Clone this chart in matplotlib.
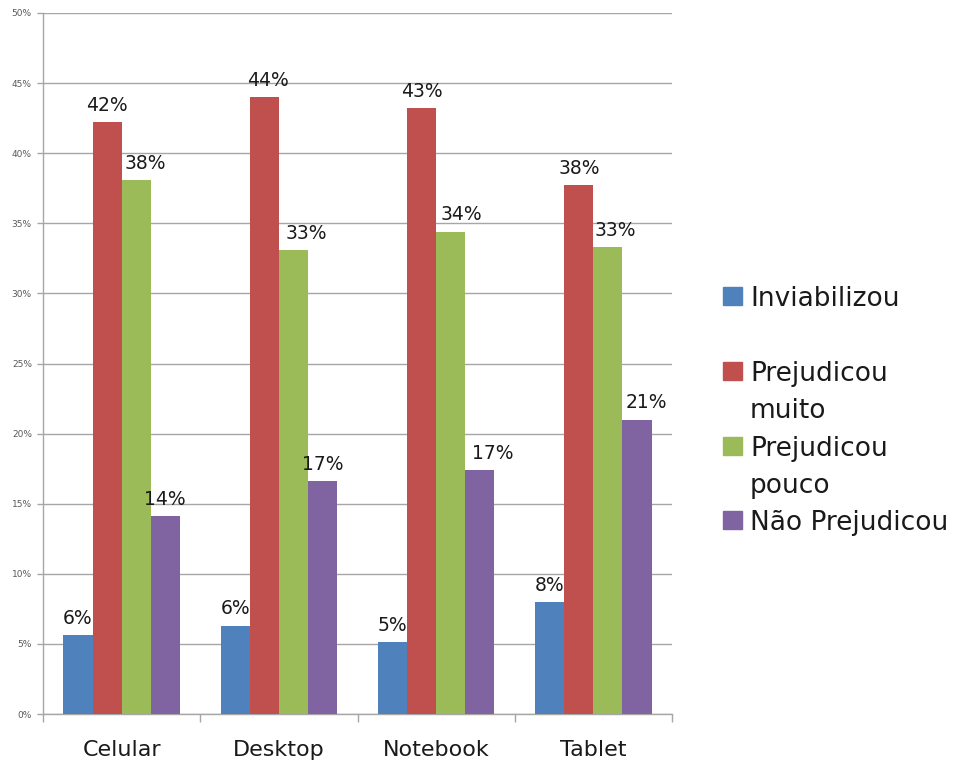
import matplotlib
matplotlib.use("Agg")
import matplotlib.pyplot as plt
from matplotlib.patches import Rectangle
import numpy as np

categories = ["Celular", "Desktop", "Notebook", "Tablet"]
series_names = ["Inviabilizou", "Prejudicou\nmuito", "Prejudicou\npouco", "Não Prejudicou"]
inviabilizou = [5.6, 6.3, 5.1, 8.0]
prejudicou_muito = [42.2, 44.0, 43.2, 37.7]
prejudicou_pouco = [38.1, 33.1, 34.4, 33.3]
nao_prejudicou = [14.1, 16.6, 17.4, 21.0]
y_ticks = [0, 5, 10, 15, 20, 25, 30, 35, 40, 45, 50]

series = [inviabilizou, prejudicou_muito, prejudicou_pouco, nao_prejudicou]
colors = ["#4F81BD", "#C0504D", "#9BBB59", "#8064A2"]

# horizontal nudges (in category widths) so neighbouring value labels don't collide
label_shift = [
    [0.0, 0.0, 0.0, 0.0],
    [0.0, 0.02, 0.0, 0.0],
    [0.057, 0.083, 0.07, 0.05],
    [0.0, 0.0, 0.083, 0.057],
]

plt.rcParams["font.family"] = ["DejaVu Sans"]

W, H = 960, 765
fig = plt.figure(figsize=(W / 100, H / 100), dpi=100)
ax = fig.add_axes([43 / W, 1 - 714 / H, 629 / W, 701 / H])

x = np.arange(len(categories))
width = 0.185
for i, (vals, col) in enumerate(zip(series, colors)):
    pos = x + (i - 1.5) * width
    ax.bar(pos, vals, width=width, color=col, zorder=3)
    for j, (px, v) in enumerate(zip(pos, vals)):
        ax.text(px + label_shift[i][j], v + 0.8, f"{v:.0f}%", ha="center",
                va="baseline", fontsize=13.5, color="#1a1a1a", zorder=4)

ax.set_xlim(-0.5, len(categories) - 0.5)
ax.set_ylim(0, 50)
ax.set_yticks(y_ticks)
ax.set_yticklabels([f"{t}%" for t in y_ticks], fontsize=6.5, color="#595959")
ax.yaxis.grid(True, color="#a6a6a6", linewidth=1.0, zorder=0)
ax.set_axisbelow(True)

# category names under each group, tick marks on the group boundaries
ax.set_xticks(x)
ax.set_xticklabels(categories, fontsize=16, color="#1a1a1a")
ax.tick_params(axis="x", length=0, pad=19)
ax.set_xticks(np.arange(len(categories) + 1) - 0.5, minor=True)
ax.tick_params(axis="x", which="minor", length=6, color="#a6a6a6", width=1)
ax.tick_params(axis="y", length=4, color="#a6a6a6", width=1, pad=4)

for side in ["top", "right"]:
    ax.spines[side].set_visible(False)
for side in ["left", "bottom"]:
    ax.spines[side].set_color("#a6a6a6")
    ax.spines[side].set_linewidth(1.0)

# legend at the right of the plot area (baselines of each entry's first line)
legend_base = [306, 381, 456, 530]
line_step = 37
for name, col, base in zip(series_names, colors, legend_base):
    fig.patches.append(Rectangle((723 / W, 1 - (base - 1) / H), 19 / W, 18 / H,
                                 transform=fig.transFigure, color=col))
    for k, line in enumerate(name.split("\n")):
        fig.text(750 / W, 1 - (base + k * line_step) / H, line, fontsize=19,
                 color="#1a1a1a", va="baseline", ha="left")

fig.savefig("out.png", dpi=100)
